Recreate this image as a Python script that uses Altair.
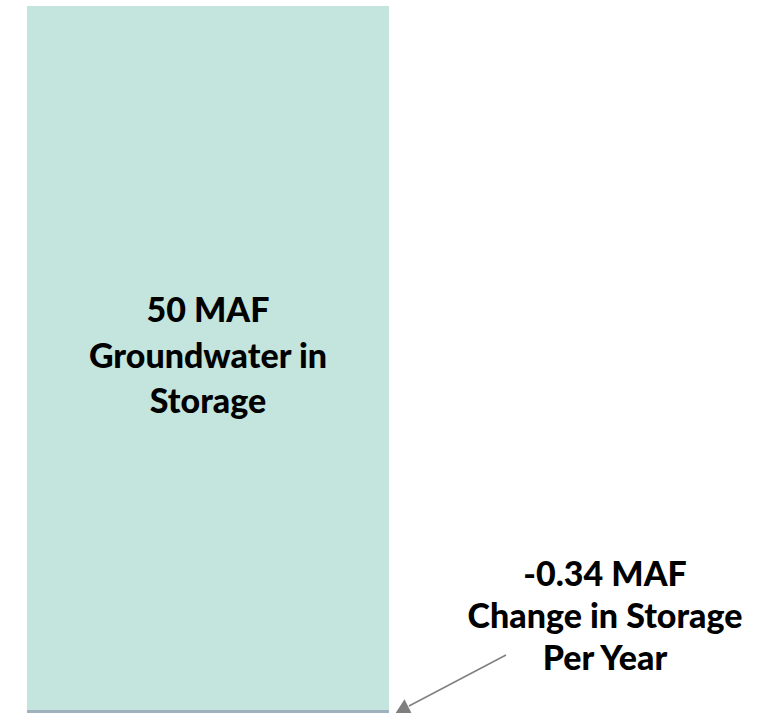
import altair as alt
import pandas as pd

# ---- data ----
categories = ["Storage"]
series_names = ["Groundwater in Storage", "Change in Storage Per Year"]
series_values = [50, -0.34]          # MAF
series_colors = ["#c4e4de", "#9fb1bd"]
unit = "MAF"

main_label = [f"{series_values[0]:g} {unit}", "Groundwater in", "Storage"]
change_label = [f"{series_values[1]:g} {unit}", "Change in Storage", "Per Year"]

bars = pd.DataFrame({
    "category": [categories[0]] * len(series_values),
    "series": series_names,
    "start": [0] * len(series_values),
    "value": series_values,
})

W, H = 769, 713

x_scale = alt.Scale(domain=categories, paddingInner=0, paddingOuter=0.5622, align=0.0663)
y_scale = alt.Scale(domain=[-0.213, 50.426], nice=False, zero=False)

bar = alt.Chart(bars).mark_bar(clip=True).encode(
    x=alt.X("category:N", scale=x_scale, axis=None),
    y=alt.Y("start:Q", scale=y_scale, axis=None),
    y2="value:Q",
    color=alt.Color("series:N", scale=alt.Scale(domain=series_names, range=series_colors), legend=None),
)

label_df = pd.DataFrame({"category": categories})
main_text = alt.Chart(label_df).mark_text(
    text=main_label, font="Lato", fontWeight=900, fontSize=34,
    lineHeight=45.5, align="center", baseline="alphabetic", color="#000000",
).encode(
    x=alt.X("category:N", scale=x_scale, axis=None),
    y=alt.value(322),
)

change_text = alt.Chart(label_df).mark_text(
    text=change_label, font="Lato", fontWeight=900, fontSize=34,
    lineHeight=42, align="center", baseline="alphabetic", color="#000000",
).encode(
    x=alt.value(605),
    y=alt.value(586),
)

arrow_line = alt.Chart(label_df).mark_rule(color="#808080", strokeWidth=1.5).encode(
    x=alt.value(506), y=alt.value(655), x2=alt.value(409), y2=alt.value(706),
)
arrow_head = alt.Chart(label_df).mark_point(
    shape="triangle", filled=True, color="#7f7f7f", opacity=1, size=280, angle=243,
).encode(
    x=alt.value(404), y=alt.value(709),
)

chart = alt.layer(bar, main_text, change_text, arrow_line, arrow_head).properties(
    width=W, height=H, padding=0, autosize=alt.AutoSizeParams(type="none"),
).configure_view(stroke=None)

chart.save("out.html", embed_options={"renderer": "svg", "actions": False})
